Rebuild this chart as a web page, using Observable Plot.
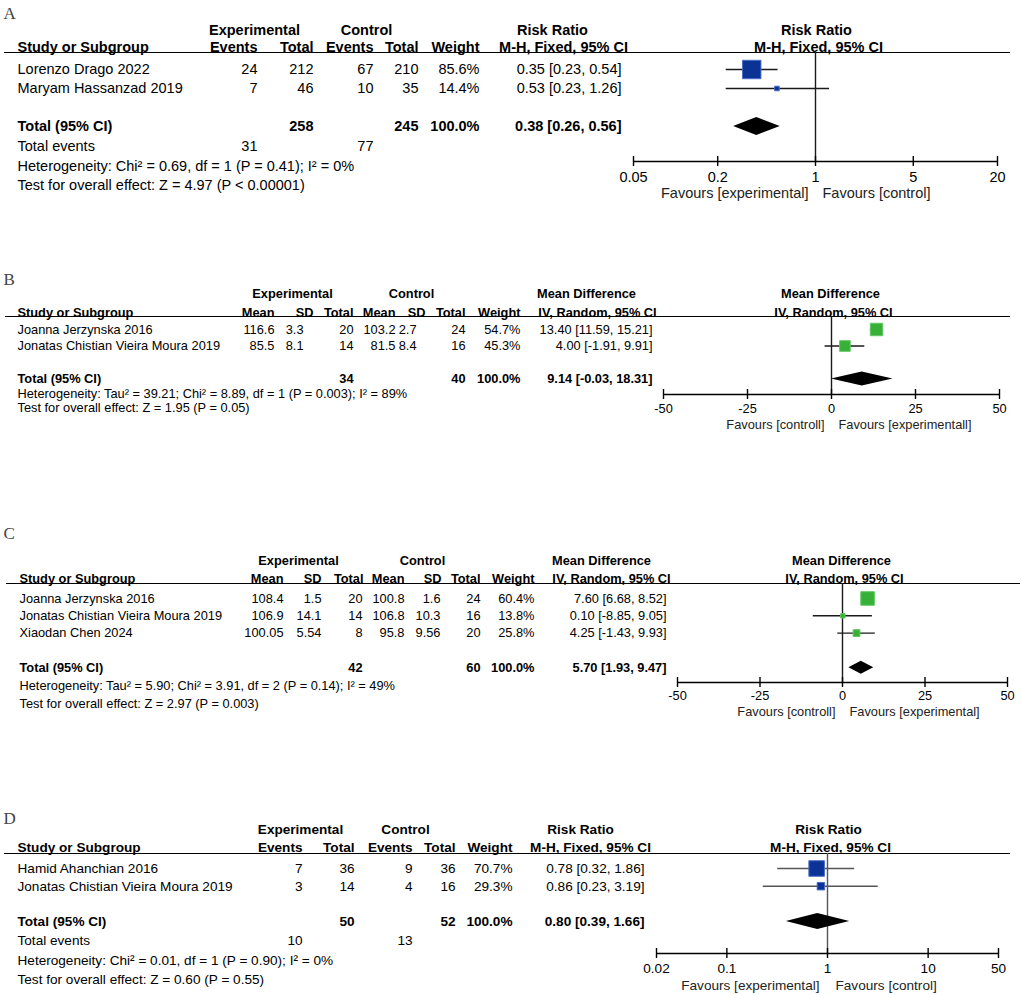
<!DOCTYPE html>
<html><head><meta charset="utf-8">
<script src="https://cdn.jsdelivr.net/npm/d3@7"></script>
<script src="https://cdn.jsdelivr.net/npm/@observablehq/plot@0.6"></script>
<style>
html,body{margin:0;padding:0;background:#fff;}
#chart{width:1022px;}
#chart svg{display:block;}
</style></head><body><div id="chart"></div>
<script>
// ================= DATA =================
// Panel A — Risk Ratio, M-H Fixed
const studiesA = ["Lorenzo Drago 2022", "Maryam Hassanzad 2019"];
const expEventsA = [24, 7];
const expTotalA = [212, 46];
const ctlEventsA = [67, 10];
const ctlTotalA = [210, 35];
const weightA = [85.6, 14.4];
const rrA = [0.35, 0.53];
const rrLoA = [0.23, 0.23];
const rrHiA = [0.54, 1.26];
const pooledA = [0.38, 0.26, 0.56];          // estimate, lower, upper
const totalNA = [258, 245];                 // experimental, control
const totalEventsA = [31, 77];
const heteroA = "Heterogeneity: Chi² = 0.69, df = 1 (P = 0.41); I² = 0%";
const testA = "Test for overall effect: Z = 4.97 (P < 0.00001)";
const ticksA = [0.05, 0.2, 1, 5, 20];
const tickLabelsA = ["0.05", "0.2", "1", "5", "20"];
const favoursA = ["Favours [experimental]", "Favours [control]"];

// Panel B — Mean Difference, IV Random
const studiesB = ["Joanna Jerzynska 2016", "Jonatas Chistian Vieira Moura 2019"];
const expMeanB = ["116.6", "85.5"];
const expSDB = ["3.3", "8.1"];
const expNB = [20, 14];
const ctlMeanB = ["103.2", "81.5"];
const ctlSDB = ["2.7", "8.4"];
const ctlNB = [24, 16];
const weightB = [54.7, 45.3];
const mdB = [13.40, 4.00];
const mdLoB = [11.59, -1.91];
const mdHiB = [15.21, 9.91];
const pooledB = [9.14, -0.03, 18.31];
const totalNB = [34, 40];
const heteroB = "Heterogeneity: Tau² = 39.21; Chi² = 8.89, df = 1 (P = 0.003); I² = 89%";
const testB = "Test for overall effect: Z = 1.95 (P = 0.05)";
const ticksB = [-50, -25, 0, 25, 50];
const tickLabelsB = ["-50", "-25", "0", "25", "50"];
const favoursB = ["Favours [controll]", "Favours [experimentall]"];

// Panel C — Mean Difference, IV Random
const studiesC = ["Joanna Jerzynska 2016", "Jonatas Chistian Vieira Moura 2019", "Xiaodan Chen 2024"];
const expMeanC = ["108.4", "106.9", "100.05"];
const expSDC = ["1.5", "14.1", "5.54"];
const expNC = [20, 14, 8];
const ctlMeanC = ["100.8", "106.8", "95.8"];
const ctlSDC = ["1.6", "10.3", "9.56"];
const ctlNC = [24, 16, 20];
const weightC = [60.4, 13.8, 25.8];
const mdC = [7.60, 0.10, 4.25];
const mdLoC = [6.68, -8.85, -1.43];
const mdHiC = [8.52, 9.05, 9.93];
const pooledC = [5.70, 1.93, 9.47];
const totalNC = [42, 60];
const heteroC = "Heterogeneity: Tau² = 5.90; Chi² = 3.91, df = 2 (P = 0.14); I² = 49%";
const testC = "Test for overall effect: Z = 2.97 (P = 0.003)";
const ticksC = [-50, -25, 0, 25, 50];
const tickLabelsC = ["-50", "-25", "0", "25", "50"];
const favoursC = ["Favours [controll]", "Favours [experimental]"];

// Panel D — Risk Ratio, M-H Fixed
const studiesD = ["Hamid Ahanchian 2016", "Jonatas Chistian Vieira Moura 2019"];
const expEventsD = [7, 3];
const expTotalD = [36, 14];
const ctlEventsD = [9, 4];
const ctlTotalD = [36, 16];
const weightD = [70.7, 29.3];
const rrD = [0.78, 0.86];
const rrLoD = [0.32, 0.23];
const rrHiD = [1.86, 3.19];
const pooledD = [0.80, 0.39, 1.66];
const totalND = [50, 52];
const totalEventsD = [10, 13];
const heteroD = "Heterogeneity: Chi² = 0.01, df = 1 (P = 0.90); I² = 0%";
const testD = "Test for overall effect: Z = 0.60 (P = 0.55)";
const ticksD = [0.02, 0.1, 1, 10, 50];
const tickLabelsD = ["0.02", "0.1", "1", "10", "50"];
const favoursD = ["Favours [experimental]", "Favours [control]"];

// ================= LAYOUT =================
const BLUE = {fill: "#0b3396", stroke: "#4a6cc7"};
const GREEN = {fill: "#37b037", stroke: "#62c762"};

const panels = [
  {
    label: "A", top: 0, height: 245, font: 14.5, footFont: 14.5, labelY: 13,
    hdr1Y: 30, hdr2Y: 47, lineY: 52, lineX: [4, 1010], row0: 69, step: 19,
    nameX: 17, names: studiesA,
    groups: [["Experimental", 254], ["Control", 366], ["Risk Ratio", 552], ["Risk Ratio", 816]],
    subs: [["M-H, Fixed, 95% CI", 563], ["M-H, Fixed, 95% CI", 818]],
    columns: [
      {header: "Events", values: expEventsA, x: 257, hx: 257, events: totalEventsA[0]},
      {header: "Total", values: expTotalA, x: 313, hx: 313, total: totalNA[0]},
      {header: "Events", values: ctlEventsA, x: 373, hx: 373, events: totalEventsA[1]},
      {header: "Total", values: ctlTotalA, x: 418, hx: 418, total: totalNA[1]}
    ],
    weights: weightA, weightX: 479, ciX: 621,
    est: rrA, lo: rrLoA, hi: rrHiA, pooled: pooledA,
    eventsY: 146, heteroY: 166, testY: 185, hetero: heteroA, test: testA,
    xType: "log", domain: [0.05, 20], range: [633, 997], nullValue: 1,
    ticks: ticksA, tickLabels: tickLabelsA, favours: favoursA,
    axisY: 161, tickLabelY: 177, favY: 193, favGap: 7, diamond: 9,
    colors: BLUE, ciStroke: "#1a1a1a"
  },
  {
    label: "B", top: 245, height: 250, font: 12.8, footFont: 12.8, labelY: 279,
    hdr1Y: 293, hdr2Y: 312, lineY: 316, lineX: [5, 1010], row0: 329, step: 16.5,
    nameX: 17, names: studiesB,
    groups: [["Experimental", 292], ["Control", 411], ["Mean Difference", 586], ["Mean Difference", 830]],
    subs: [["IV, Random, 95% CI", 597], ["IV, Random, 95% CI", 833]],
    columns: [
      {header: "Mean", values: expMeanB, x: 274, hx: 274},
      {header: "SD", values: expSDB, x: 303, hx: 313},
      {header: "Total", values: expNB, x: 353, hx: 353, total: totalNB[0]},
      {header: "Mean", values: ctlMeanB, x: 395, hx: 395},
      {header: "SD", values: ctlSDB, x: 416, hx: 425},
      {header: "Total", values: ctlNB, x: 465, hx: 465, total: totalNB[1]}
    ],
    weights: weightB, weightX: 520, ciX: 652,
    est: mdB, lo: mdLoB, hi: mdHiB, pooled: pooledB,
    heteroY: 393, testY: 407, hetero: heteroB, test: testB,
    xType: "linear", domain: [-50, 50], range: [663, 999], nullValue: 0,
    ticks: ticksB, tickLabels: tickLabelsB, favours: favoursB,
    axisY: 394, tickLabelY: 408, favY: 424, favGap: 7, diamond: 7,
    colors: GREEN, ciStroke: "#1a1a1a"
  },
  {
    label: "C", top: 495, height: 245, font: 12.8, footFont: 12.8, labelY: 533,
    hdr1Y: 560, hdr2Y: 578, lineY: 583, lineX: [6, 1020], row0: 598, step: 17.3,
    nameX: 19, names: studiesC,
    groups: [["Experimental", 298], ["Control", 422], ["Mean Difference", 601], ["Mean Difference", 841]],
    subs: [["IV, Random, 95% CI", 611], ["IV, Random, 95% CI", 844]],
    columns: [
      {header: "Mean", values: expMeanC, x: 283, hx: 283},
      {header: "SD", values: expSDC, x: 321, hx: 321},
      {header: "Total", values: expNC, x: 362, hx: 363, total: totalNC[0]},
      {header: "Mean", values: ctlMeanC, x: 404, hx: 404},
      {header: "SD", values: ctlSDC, x: 440, hx: 441},
      {header: "Total", values: ctlNC, x: 480, hx: 480, total: totalNC[1]}
    ],
    weights: weightC, weightX: 534, ciX: 666,
    est: mdC, lo: mdLoC, hi: mdHiC, pooled: pooledC,
    heteroY: 685, testY: 703, hetero: heteroC, test: testC,
    xType: "linear", domain: [-50, 50], range: [677, 1007], nullValue: 0,
    ticks: ticksC, tickLabels: tickLabelsC, favours: favoursC,
    axisY: 682, tickLabelY: 695, favY: 711, favGap: 7, diamond: 6.5,
    colors: GREEN, ciStroke: "#1a1a1a"
  },
  {
    label: "D", top: 740, height: 255, font: 13.6, footFont: 13.6, labelY: 818,
    hdr1Y: 829, hdr2Y: 847, lineY: 853, lineX: [4, 1010], row0: 868, step: 17.7,
    nameX: 17, names: studiesD,
    groups: [["Experimental", 300], ["Control", 405], ["Risk Ratio", 580], ["Risk Ratio", 828]],
    subs: [["M-H, Fixed, 95% CI", 590], ["M-H, Fixed, 95% CI", 830]],
    columns: [
      {header: "Events", values: expEventsD, x: 302, hx: 302, events: totalEventsD[0]},
      {header: "Total", values: expTotalD, x: 354, hx: 354, total: totalND[0]},
      {header: "Events", values: ctlEventsD, x: 412, hx: 412, events: totalEventsD[1]},
      {header: "Total", values: ctlTotalD, x: 455, hx: 455, total: totalND[1]}
    ],
    weights: weightD, weightX: 512, ciX: 644,
    est: rrD, lo: rrLoD, hi: rrHiD, pooled: pooledD,
    eventsY: 940, heteroY: 960, testY: 979, hetero: heteroD, test: testD,
    xType: "log", domain: [0.02, 50], range: [656, 998], nullValue: 1,
    ticks: ticksD, tickLabels: tickLabelsD, favours: favoursD,
    axisY: 953, tickLabelY: 968, favY: 985, favGap: 8, diamond: 8,
    colors: BLUE, ciStroke: "#555"
  }
];

const ci = (e, l, h) => `${e.toFixed(2)} [${l.toFixed(2)}, ${h.toFixed(2)}]`;

function panel(p) {
  const r = py => (py - p.row0) / p.step;   // page pixel → row units of y scale
  const n = p.names.length;
  const totalRow = n + 1;
  const idx = (d, i) => i;
  const marks = [];
  const T = (data, o) => marks.push(Plot.text(data, {
    frameAnchor: "left", lineAnchor: "middle", fontSize: p.font, fill: "#000", ...o
  }));

  // panel letter
  T([p.label], {y: () => r(p.labelY), dx: 3, textAnchor: "start",
    fontFamily: "'Liberation Serif', 'DejaVu Serif', serif", fontSize: 17, fill: "#444"});
  // group headers (row 1) and sub-headers (row 2)
  p.groups.forEach(([t, x]) => T([t], {y: () => r(p.hdr1Y), dx: x, textAnchor: "middle", fontWeight: "bold"}));
  p.subs.forEach(([t, x]) => T([t], {y: () => r(p.hdr2Y), dx: x, textAnchor: "middle", fontWeight: "bold"}));
  T(["Study or Subgroup"], {y: () => r(p.hdr2Y), dx: p.nameX, textAnchor: "start", fontWeight: "bold"});
  p.columns.forEach(c => T([c.header], {y: () => r(p.hdr2Y), dx: c.hx, textAnchor: "end", fontWeight: "bold"}));
  T(["Weight"], {y: () => r(p.hdr2Y), dx: p.weightX, textAnchor: "end", fontWeight: "bold"});
  // header rule
  marks.push(Plot.ruleY([0], {y: () => r(p.lineY), insetLeft: p.lineX[0], insetRight: 1022 - p.lineX[1], stroke: "#000", strokeWidth: 1.2}));

  // study rows
  T(p.names, {y: idx, dx: p.nameX, textAnchor: "start"});
  p.columns.forEach(c => T(c.values, {y: idx, text: d => String(d), dx: c.x, textAnchor: "end"}));
  T(p.weights, {y: idx, text: d => d.toFixed(1) + "%", dx: p.weightX, textAnchor: "end"});
  T(p.est, {y: idx, text: (d, i) => ci(d, p.lo[i], p.hi[i]), dx: p.ciX, textAnchor: "end"});

  // total row
  T(["Total (95% CI)"], {y: () => totalRow, dx: p.nameX, textAnchor: "start", fontWeight: "bold"});
  p.columns.filter(c => c.total != null).forEach(c =>
    T([c.total], {y: () => totalRow, text: d => String(d), dx: c.x, textAnchor: "end", fontWeight: "bold"}));
  T([100], {y: () => totalRow, text: d => d.toFixed(1) + "%", dx: p.weightX, textAnchor: "end", fontWeight: "bold"});
  T([p.pooled], {y: () => totalRow, text: d => ci(d[0], d[1], d[2]), dx: p.ciX, textAnchor: "end", fontWeight: "bold"});

  // footer
  if (p.eventsY != null) {
    T(["Total events"], {y: () => r(p.eventsY), dx: p.nameX, textAnchor: "start"});
    p.columns.filter(c => c.events != null).forEach(c =>
      T([c.events], {y: () => r(p.eventsY), text: d => String(d), dx: c.x, textAnchor: "end"}));
  }
  T([p.hetero], {y: () => r(p.heteroY), dx: p.nameX, textAnchor: "start", fontSize: p.footFont});
  T([p.test], {y: () => r(p.testY), dx: p.nameX, textAnchor: "start", fontSize: p.footFont});

  // ---- forest plot ----
  const ya = r(p.axisY), tick = 5 / p.step;
  marks.push(Plot.ruleX([p.nullValue], {x: d => d, y1: () => r(p.lineY), y2: () => ya, stroke: p.ciStroke, strokeWidth: 1.4}));
  marks.push(Plot.ruleY(p.est, {y: idx, x1: (d, i) => p.lo[i], x2: (d, i) => p.hi[i], stroke: p.ciStroke, strokeWidth: 1.4}));
  marks.push(Plot.dot(p.est, {x: d => d, y: idx, r: (d, i) => p.weights[i], symbol: "square",
    fill: p.colors.fill, stroke: p.colors.stroke, strokeWidth: 1}));
  const h = p.diamond / p.step;
  const dm = [
    {x: p.pooled[1], y1: totalRow, y2: totalRow},
    {x: p.pooled[0], y1: totalRow - h, y2: totalRow + h},
    {x: p.pooled[2], y1: totalRow, y2: totalRow}
  ];
  marks.push(Plot.areaY(dm, {x: "x", y1: "y1", y2: "y2", fill: "#000"}));
  marks.push(Plot.ruleY([0], {y: () => ya, x1: () => p.domain[0], x2: () => p.domain[1], stroke: "#000", strokeWidth: 1.4}));
  marks.push(Plot.ruleX(p.ticks, {x: d => d, y1: () => ya - tick, y2: () => ya + tick, stroke: "#000", strokeWidth: 1.4}));
  marks.push(Plot.text(p.ticks, {x: d => d, y: () => r(p.tickLabelY), text: (d, i) => p.tickLabels[i],
    fontSize: p.font, fill: "#000", lineAnchor: "middle"}));
  marks.push(Plot.text([p.favours[0]], {x: () => p.nullValue, y: () => r(p.favY), dx: -p.favGap, textAnchor: "end",
    fontSize: p.font, fill: "#222", lineAnchor: "middle"}));
  marks.push(Plot.text([p.favours[1]], {x: () => p.nullValue, y: () => r(p.favY), dx: p.favGap, textAnchor: "start",
    fontSize: p.font, fill: "#222", lineAnchor: "middle"}));

  return Plot.plot({
    width: 1022, height: p.height,
    marginLeft: 0, marginRight: 0, marginTop: 0, marginBottom: 0,
    x: {type: p.xType, domain: p.domain, range: p.range, axis: null},
    y: {type: "linear", domain: [0, 1], range: [p.row0 - p.top, p.row0 - p.top + p.step], axis: null},
    r: {type: "linear", domain: [0, 100], range: [1, 12]},
    style: {fontFamily: "'Liberation Sans', Arial, sans-serif", background: "#fff", color: "#000", overflow: "visible"},
    marks
  });
}

const root = document.getElementById("chart");
for (const p of panels) root.appendChild(panel(p));
</script>
</body></html>
